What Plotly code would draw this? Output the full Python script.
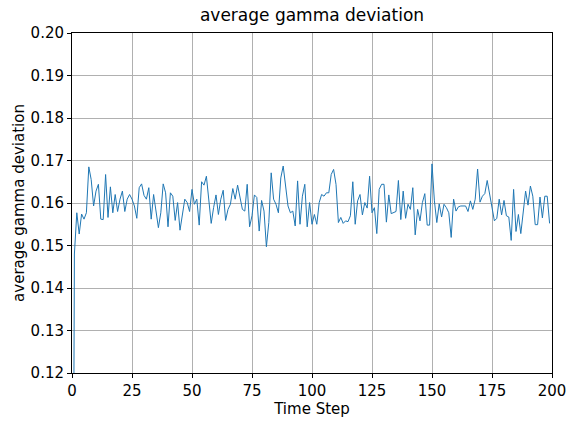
import plotly.graph_objects as go

# average gamma deviation per time step
gamma_dev = [
    0.0, 0.148, 0.1577, 0.1527, 0.1574, 0.1562, 0.1577, 0.1685, 0.1655, 0.1593,
    0.1628, 0.1644, 0.1562, 0.1561, 0.1667, 0.1566, 0.1638, 0.1577, 0.1620, 0.1580,
    0.1609, 0.1628, 0.1580, 0.1609, 0.1620, 0.1609, 0.1593, 0.1564, 0.1636, 0.1645,
    0.1618, 0.1609, 0.1636, 0.1562, 0.1620, 0.1585, 0.1542, 0.1577, 0.1645, 0.1624,
    0.1544, 0.1624, 0.1616, 0.1559, 0.1601, 0.1536, 0.1573, 0.1609, 0.1601, 0.1580,
    0.1632, 0.1597, 0.1609, 0.1548, 0.1650, 0.1642, 0.1663, 0.1613, 0.1552, 0.1589,
    0.1619, 0.1573, 0.1609, 0.1630, 0.1559, 0.1585, 0.1597, 0.1634, 0.1609, 0.1642,
    0.1616, 0.1585, 0.1581, 0.1644, 0.1544, 0.1570, 0.1619, 0.1613, 0.1534, 0.1606,
    0.1581, 0.1497, 0.1554, 0.1671, 0.1609, 0.1597, 0.1577, 0.1659, 0.1687, 0.1636,
    0.1593, 0.1577, 0.1581, 0.1546, 0.1652, 0.1550, 0.1616, 0.1644, 0.1544, 0.1601,
    0.1550, 0.1573, 0.1550, 0.1601, 0.1620, 0.1616, 0.1624, 0.1624, 0.1667, 0.1679,
    0.1644, 0.1554, 0.1566, 0.1552, 0.1558, 0.1556, 0.1570, 0.1650, 0.1550, 0.1605,
    0.1620, 0.1572, 0.1601, 0.1588, 0.1663, 0.1577, 0.1589, 0.1528, 0.1632, 0.1644,
    0.1644, 0.1555, 0.1619, 0.1575, 0.1577, 0.1580, 0.1653, 0.1561, 0.1628, 0.1564,
    0.1597, 0.1585, 0.1636, 0.1525, 0.1585, 0.1558, 0.1601, 0.1622, 0.1548, 0.1548,
    0.1692, 0.1605, 0.1554, 0.1598, 0.1567, 0.1597, 0.1589, 0.1577, 0.1519, 0.1609,
    0.1581, 0.1591, 0.1593, 0.1593, 0.1593, 0.1580, 0.1605, 0.1585, 0.1609, 0.1680,
    0.1602, 0.1616, 0.1622, 0.1653, 0.1620, 0.1589, 0.1558, 0.1564, 0.1609, 0.1572,
    0.1606, 0.1570, 0.1567, 0.1512, 0.1632, 0.1533, 0.1573, 0.1528, 0.1572, 0.1628,
    0.1595, 0.1640, 0.1616, 0.1549, 0.1549, 0.1614, 0.1565, 0.1616, 0.1616, 0.1552,
]
time_steps = list(range(len(gamma_dev)))

x_ticks = [0, 25, 50, 75, 100, 125, 150, 175, 200]
y_ticks = [0.12, 0.13, 0.14, 0.15, 0.16, 0.17, 0.18, 0.19, 0.20]

title_text = "average gamma deviation"
x_label = "Time Step"
y_label = "average gamma deviation"

FONT = "DejaVu Sans"

fig = go.Figure(
    go.Scatter(
        x=time_steps,
        y=gamma_dev,
        mode="lines",
        line=dict(color="#1f77b4", width=1),
        showlegend=False,
    )
)

axis_common = dict(
    showline=True,
    linecolor="black",
    linewidth=1,
    mirror=True,
    ticks="outside",
    ticklen=4,
    tickcolor="black",
    showgrid=True,
    gridcolor="#b0b0b0",
    gridwidth=1,
    zeroline=False,
    automargin=False,
    tickfont=dict(family=FONT, size=15, color="black"),
)

fig.update_xaxes(
    range=[0, 200],
    tickvals=x_ticks,
    ticktext=[str(t) for t in x_ticks],
    title=dict(text=x_label, font=dict(family=FONT, size=15, color="black"), standoff=2),
    **axis_common,
)
fig.update_yaxes(
    range=[0.12, 0.20],
    tickvals=y_ticks,
    ticktext=[f"{t:.2f}" for t in y_ticks],
    title=dict(text=y_label, font=dict(family=FONT, size=15, color="black"), standoff=2),
    **axis_common,
)

fig.update_layout(
    width=567,
    height=422,
    margin=dict(l=72, r=15, t=33, b=49),
    paper_bgcolor="white",
    plot_bgcolor="white",
    title=dict(
        text=title_text,
        font=dict(family=FONT, size=17, color="black"),
        x=(72 + 552) / 2 / 567,
        xanchor="center",
        y=1 - 15 / 422,
        yanchor="middle",
    ),
)

fig.write_html(
    "out.html",
    config={"displayModeBar": False},
    post_script="document.body.style.margin='0';document.body.style.overflow='hidden';",
)
